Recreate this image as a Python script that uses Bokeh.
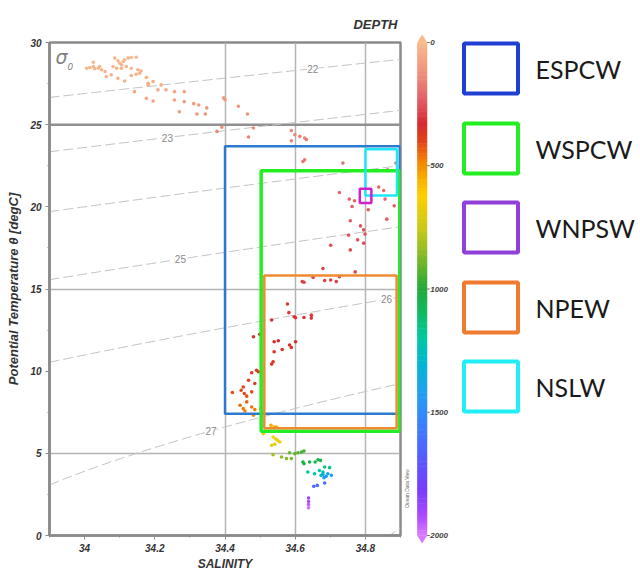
import numpy as np
from bokeh.plotting import figure
from bokeh.models import (Range1d, FixedTicker, CustomJSTickFormatter, Span, Label,
                          ColumnDataSource, LinearColorMapper)
from bokeh.layouts import row
from bokeh.embed import file_html
from bokeh.resources import INLINE
from bokeh.core.properties import value

# ---------------- data ----------------
salinity = [
    34.006, 34.015, 34.025, 34.029, 34.039, 34.043, 34.048, 34.058, 34.025, 34.062,
    34.086, 34.095, 34.100, 34.105, 34.110, 34.114, 34.124, 34.133, 34.147, 34.081,
    34.091, 34.105, 34.119, 34.133, 34.152, 34.161, 34.076, 34.095, 34.114, 34.133,
    34.147, 34.157, 34.176, 34.181, 34.195, 34.181, 34.142, 34.209, 34.232, 34.218,
    34.176, 34.195, 34.256, 34.284, 34.256, 34.284, 34.270,
    34.311, 34.325, 34.320, 34.344, 34.348, 34.396, 34.400, 34.438, 34.464, 34.391,
    34.377, 34.481, 34.467, 34.589, 34.599, 34.613, 34.627, 34.632, 34.589,
    34.622, 34.627, 34.736, 34.887, 34.863, 34.726, 34.754, 34.769, 34.762, 34.808,
    34.838, 34.852, 34.856, 34.882,
    34.757, 34.786, 34.795, 34.799, 34.861, 34.752, 34.778, 34.795, 34.701, 34.757,
    34.679, 34.771,
    34.625, 34.651, 34.684, 34.701, 34.717, 34.726, 34.620,
    34.578, 34.582, 34.597, 34.601, 34.625, 34.646, 34.646, 34.533, 34.499, 34.481,
    34.540, 34.552, 34.601, 34.584, 34.589, 34.563, 34.540, 34.537, 34.533, 34.490,
    34.476, 34.495,
    34.467, 34.485, 34.452, 34.446, 34.421, 34.455, 34.462, 34.476,
    34.462, 34.443, 34.452, 34.457, 34.476, 34.485, 34.502, 34.481,
    34.531, 34.540, 34.547, 34.509,
    34.537, 34.544, 34.550, 34.556, 34.533, 34.542,
    34.537, 34.561, 34.575, 34.589, 34.584, 34.599, 34.608, 34.618, 34.625,
    34.622, 34.625, 34.641, 34.657, 34.665, 34.672,
    34.636, 34.655, 34.669, 34.679, 34.684, 34.698, 34.674,
    34.679, 34.688, 34.693, 34.703, 34.682,
    34.653, 34.663, 34.684,
    34.638, 34.638, 34.638, 34.638,
]
temperature = [
    28.43, 28.48, 28.54, 28.40, 28.43, 28.54, 28.34, 28.23, 28.80, 27.93,
    29.05, 28.89, 28.74, 28.64, 28.84, 28.95, 29.05, 29.09, 29.10, 28.54,
    28.43, 28.43, 28.54, 28.43, 28.34, 28.27, 28.03, 27.82, 27.66, 27.99,
    28.07, 28.13, 27.87, 27.52, 27.62, 27.42, 27.01, 27.12, 27.12, 27.42,
    26.60, 26.44, 27.01, 27.01, 26.50, 26.40, 25.79,
    26.28, 26.20, 25.65, 25.65, 26.02, 26.63, 26.52, 26.12, 25.65, 24.84,
    24.59, 24.80, 24.25, 24.65, 24.39, 24.29, 24.19, 24.09, 24.02,
    22.76, 22.87, 22.66, 22.66, 22.26, 20.87, 20.47, 20.37, 20.02, 19.82,
    21.20, 20.99, 20.47, 20.06,
    19.15, 18.84, 18.60, 18.34, 19.25, 18.27, 17.99, 17.79, 17.66, 17.38,
    16.24, 16.04,
    15.41, 15.71, 15.51, 15.55, 15.45, 15.75, 15.45,
    14.09, 13.56, 13.31, 13.25, 13.27, 13.41, 13.23, 13.11, 12.24, 12.09,
    11.79, 11.85, 11.79, 11.59, 11.44, 11.32, 11.18, 10.57, 10.43, 10.06,
    9.90, 9.96,
    9.45, 9.25, 9.04, 8.84, 8.70, 8.64, 8.48, 8.74,
    8.13, 7.93, 7.72, 7.58, 7.82, 7.66, 7.72, 7.32,
    6.71, 6.60, 6.60, 6.20,
    5.99, 5.89, 5.79, 5.69, 5.49, 5.55,
    4.92, 4.78, 4.68, 4.68, 5.04, 4.98, 5.04, 5.08, 5.14,
    4.47, 4.37, 4.47, 4.47, 4.61, 4.57,
    3.86, 3.76, 3.96, 3.86, 4.17, 4.13, 3.66,
    3.72, 3.60, 3.76, 3.66, 3.52,
    2.99, 3.05, 3.19,
    2.28, 2.07, 1.89, 1.69,
]
depth = [
    10, 12, 15, 18, 12, 20, 15, 22, 10, 30,
    8, 10, 14, 16, 12, 10, 8, 6, 5, 18,
    16, 20, 18, 22, 25, 28, 30, 35, 40, 32,
    30, 28, 38, 45, 42, 48, 55, 55, 60, 48,
    70, 75, 62, 65, 80, 85, 100,
    95, 100, 110, 115, 105, 95, 100, 110, 120, 140,
    145, 140, 150, 150, 155, 160, 160, 165, 165,
    180, 185, 190, 195, 200, 215, 220, 225, 230, 235,
    210, 215, 222, 230,
    240, 245, 250, 252, 238, 255, 258, 262, 265, 268,
    280, 282,
    292, 288, 290, 290, 292, 286, 294,
    305, 312, 318, 320, 318, 315, 320, 322, 335, 338,
    342, 342, 342, 345, 348, 350, 352, 362, 365, 372,
    375, 374,
    385, 390, 398, 405, 410, 412, 418, 410,
    440, 455, 470, 480, 465, 475, 470, 500,
    540, 548, 545, 580,
    640, 650, 660, 670, 700, 690,
    820, 850, 870, 880, 900, 910, 930, 950, 960,
    1020, 1040, 1050, 1060, 1040, 1050,
    1180, 1220, 1200, 1250, 1150, 1170, 1280,
    1350, 1400, 1380, 1420, 1450,
    1650, 1640, 1620,
    1880, 1920, 1950, 1980,
]

# water-mass boxes drawn in the T-S plane
box_names = ["ESPCW", "WSPCW", "NPEW", "NSLW", "WNPSW"]
box_s_min = [34.40, 34.503, 34.512, 34.80, 34.784]
box_s_max = [34.898, 34.898, 34.889, 34.89, 34.817]
box_t_min = [7.41, 6.35, 6.53, 20.69, 20.23]
box_t_max = [23.69, 22.2, 15.82, 23.5, 21.1]
box_colors = ["#2a7ad0", "#22ee22", "#f08a30", "#22e6f6", "#d020d0"]
box_widths = [2.5, 3.5, 2.5, 2.5, 2.5]

# sigma-0 isopycnals
sigma_levels = [22, 23, 24, 25, 26, 27, 28]
sigma_label_levels = [22, 23, 25, 26, 27]
sigma_label_s = [34.65, 34.236, 34.273, 34.86, 34.36]

# legend
legend_names = ["ESPCW", "WSPCW", "WNPSW", "NPEW", "NSLW"]
legend_colors = ["#1f3fd2", "#22ee22", "#9040d8", "#f07a30", "#22eef8"]

# colour bar
cbar_title = "DEPTH"
cbar_ticks = [0, 500, 1000, 1500, 2000]

# ---------------- helpers ----------------
def sigma0(S, T):
    rw = (999.842594 + 6.793952e-2 * T - 9.095290e-3 * T**2 + 1.001685e-4 * T**3
          - 1.120083e-6 * T**4 + 6.536332e-9 * T**5)
    A = 8.24493e-1 - 4.0899e-3 * T + 7.6438e-5 * T**2 - 8.2467e-7 * T**3 + 5.3875e-9 * T**4
    B = -5.72466e-3 + 1.0227e-4 * T - 1.6546e-6 * T**2
    C = 4.8314e-4
    return rw + A * S + B * S**1.5 + C * S**2 - 1000.0


def temp_on_sigma(S, level):
    S = np.asarray(S, dtype=float)
    lo = np.full_like(S, -2.0)
    hi = np.full_like(S, 40.0)
    for _ in range(60):
        mid = (lo + hi) / 2
        dense = sigma0(S, mid) > level
        lo = np.where(dense, mid, lo)
        hi = np.where(dense, hi, mid)
    return (lo + hi) / 2


stops = [(0, "#f8b98c"), (120, "#f0927c"), (220, "#e2646a"), (330, "#d82a30"),
         (400, "#e24418"), (470, "#f27a08"), (540, "#f8a800"), (620, "#fdd000"),
         (760, "#c8c818"), (880, "#7ab828"), (1000, "#22a838"), (1100, "#10bb60"),
         (1200, "#00c8a0"), (1300, "#00b8d0"), (1420, "#20a0f0"), (1550, "#3a80ff"),
         (1700, "#5a58ff"), (1820, "#7a3cff"), (1920, "#a848ff"), (2000, "#d878ff")]


def build_palette(n=256):
    pos = np.array([s[0] for s in stops], float)
    rgb = np.array([[int(c[1:3], 16), int(c[3:5], 16), int(c[5:7], 16)] for _, c in stops], float)
    xs = np.linspace(0, 2000, n)
    out = []
    for x in xs:
        r = np.interp(x, pos, rgb[:, 0]); g = np.interp(x, pos, rgb[:, 1]); b = np.interp(x, pos, rgb[:, 2])
        out.append("#%02x%02x%02x" % (int(round(r)), int(round(g)), int(round(b))))
    return out


palette = build_palette()
mapper = LinearColorMapper(palette=palette, low=0, high=2000)

AXIS_FONT = "Liberation Sans"
GRAY = "#8a8a8a"

# ---------------- main T-S figure ----------------
p = figure(width=403, height=574, x_range=Range1d(33.9, 34.9), y_range=Range1d(0, 30),
           output_backend="svg", toolbar_location=None, title=cbar_title,
           min_border_left=49, min_border_right=3, min_border_top=42, min_border_bottom=39)
p.frame_align = False

p.title.align = "right"
p.title.text_font = AXIS_FONT
p.title.text_font_style = "bold italic"
p.title.text_font_size = "13px"
p.title.text_color = "#333333"
p.title.standoff = 22
p.title.offset = 3

p.outline_line_color = GRAY
p.outline_line_width = 2.5
p.background_fill_color = "white"
p.border_fill_color = "white"

p.xaxis.ticker = FixedTicker(ticks=[34.0, 34.2, 34.4, 34.6, 34.8],
                             minor_ticks=[33.9, 34.1, 34.3, 34.5, 34.7, 34.9])
p.xaxis.formatter = CustomJSTickFormatter(code="return tick.toFixed(1).replace(/\\.0$/, '');")
p.yaxis.ticker = FixedTicker(ticks=[0, 5, 10, 15, 20, 25, 30],
                             minor_ticks=[2.5, 7.5, 12.5, 17.5, 22.5, 27.5])
p.xaxis.axis_label = "SALINITY"
p.yaxis.axis_label = "Potential Temperature \u03b8 [degC]"
for ax in (p.xaxis, p.yaxis):
    ax.axis_line_color = GRAY
    ax.axis_line_width = 2.5
    ax.major_tick_line_color = GRAY
    ax.minor_tick_line_color = GRAY
    ax.major_tick_out = 4
    ax.major_tick_in = 0
    ax.minor_tick_out = 2
    ax.minor_tick_in = 0
    ax.major_label_text_font = AXIS_FONT
    ax.major_label_text_font_style = "bold italic"
    ax.major_label_text_font_size = "10px"
    ax.major_label_text_color = "#333333"
    ax.axis_label_text_font = AXIS_FONT
    ax.axis_label_text_font_style = "bold italic"
    ax.axis_label_text_font_size = "12px"
    ax.axis_label_text_color = "#333333"
p.yaxis.axis_label_text_font_size = "13px"
p.xaxis.major_label_standoff = 4
p.xaxis.axis_label_standoff = 2
p.yaxis.major_label_standoff = 4
p.yaxis.axis_label_standoff = 6

p.xgrid.ticker = FixedTicker(ticks=[34.4, 34.6, 34.8])
p.ygrid.ticker = FixedTicker(ticks=[5, 15])
p.grid.grid_line_color = "#b4b4b4"
p.grid.grid_line_width = 1.5
p.add_layout(Span(location=25, dimension="width", line_color="#909090", line_width=2.5, level="underlay"))

# isopycnals
s_line = np.linspace(33.9, 34.9, 80)
for lev in sigma_levels:
    t_line = temp_on_sigma(s_line, lev)
    p.line(s_line, t_line, line_color="#c2c2c2", line_width=1.0, line_dash="10 4")
for lev, s_lab in zip(sigma_label_levels, sigma_label_s):
    t_lab = float(temp_on_sigma(np.array([s_lab]), lev)[0])
    p.add_layout(Label(x=s_lab, y=t_lab, text=str(lev), text_align="center", text_baseline="middle",
                       text_font=AXIS_FONT, text_font_size="10px", text_color="#888888",
                       background_fill_color="white", background_fill_alpha=1.0))

p.add_layout(Label(x=33.9, y=30, x_offset=6, y_offset=-25, text="\u03c3", text_font="DejaVu Sans",
                   text_font_style="italic", text_font_size="19px", text_color="#808080"))
p.add_layout(Label(x=33.9, y=30, x_offset=18, y_offset=-27, text="0", text_font="DejaVu Sans",
                   text_font_style="italic", text_font_size="9px", text_color="#808080"))

# points
src = ColumnDataSource(dict(s=salinity, t=temperature, d=depth))
p.scatter("s", "t", source=src, size=3.6, marker="circle", line_color=None,
          fill_color={"field": "d", "transform": mapper})

# boxes
for i in range(len(box_names)):
    p.quad(left=[box_s_min[i]], right=[box_s_max[i]], bottom=[box_t_min[i]], top=[box_t_max[i]],
           fill_color=None, line_color=box_colors[i], line_width=box_widths[i])

# ---------------- colour bar + legend panel ----------------
p2 = figure(width=237, height=574, x_range=Range1d(403, 640), y_range=Range1d(574, 0),
            output_backend="svg", toolbar_location=None, x_axis_type=None, y_axis_type=None,
            min_border=0)
p2.frame_align = False
p2.grid.visible = False
p2.outline_line_color = None
p2.background_fill_color = "white"
p2.border_fill_color = "white"

bar_left, bar_right, bar_top, bar_bottom = 416.7, 426.7, 42.0, 535.0
scale = (bar_bottom - bar_top) / 2000.0
d_edges = np.linspace(0, 2000, 201)
d_mid = (d_edges[:-1] + d_edges[1:]) / 2
csrc = ColumnDataSource(dict(top=bar_top + d_edges[:-1] * scale - 0.3,
                             bottom=bar_top + d_edges[1:] * scale + 0.3, d=d_mid))
p2.quad(left=bar_left, right=bar_right, top="top", bottom="bottom", source=csrc,
        line_color=None, fill_color={"field": "d", "transform": mapper})
p2.patch([bar_left, bar_right, (bar_left + bar_right) / 2], [bar_top, bar_top, bar_top - 8],
         fill_color=palette[0], line_color=None)
p2.patch([bar_left, bar_right, (bar_left + bar_right) / 2], [bar_bottom, bar_bottom, bar_bottom + 8],
         fill_color=palette[-1], line_color=None)
tick_y = [bar_top + t * scale for t in cbar_ticks]
p2.segment(x0=[bar_right] * len(tick_y), x1=[bar_right + 2.5] * len(tick_y), y0=tick_y, y1=tick_y,
           line_color="#666666", line_width=1)
p2.text(x=[bar_right + 3] * len(tick_y), y=tick_y, text=[str(t) for t in cbar_ticks],
        text_font=value(AXIS_FONT), text_font_style="bold italic", text_font_size="8px",
        text_color="#444444", text_baseline="middle", text_align="left")

p2.text(x=[406], y=[488], text=["Ocean Data View"], angle=np.pi / 2, text_font=value(AXIS_FONT),
        text_font_size="5px", text_color="#666666", text_align="center", text_baseline="middle")

leg_top = [43, 123, 202, 282, 361]
leg_h = 50
p2.quad(left=[463.5] * 5, right=[517.5] * 5, top=leg_top, bottom=[t + leg_h for t in leg_top],
        fill_color=None, line_color=legend_colors, line_width=4)
p2.text(x=[535] * 5, y=[t + 25 for t in leg_top], text=legend_names, text_font=value("Lato"),
        text_font_size="25px", text_color="#1a1a1a", text_baseline="middle", text_align="left")

layout = row(p, p2)
open("out.html", "w").write(file_html(layout, INLINE))
